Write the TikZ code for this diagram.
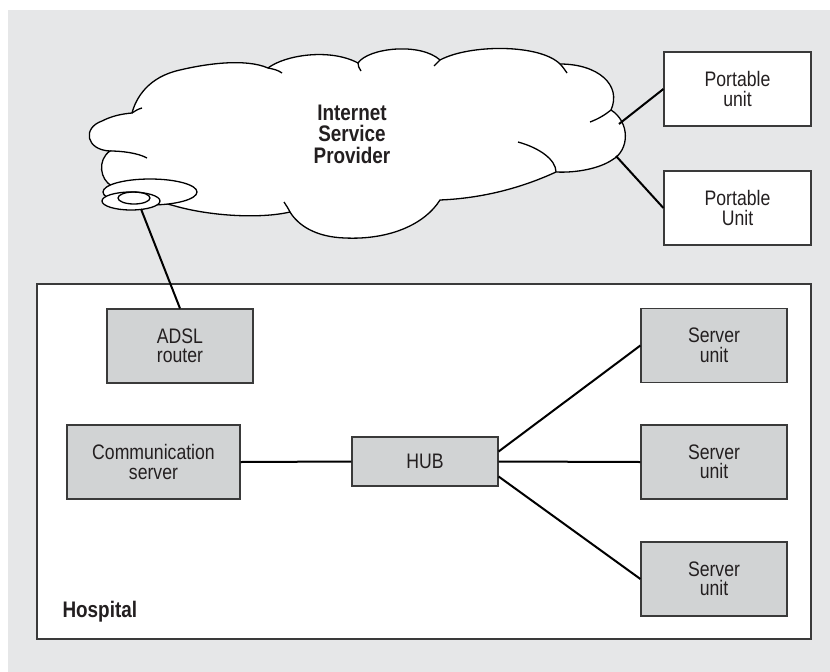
\documentclass[tikz,border=0pt]{standalone}
\usepackage{fontspec}
\setmainfont{Liberation Sans}[FakeStretch=0.84]
\usepackage{tikz}
\definecolor{bggray}{HTML}{E6E7E8}
\definecolor{boxgray}{HTML}{D1D3D4}
\definecolor{edgegray}{HTML}{3A3A3A}
\definecolor{textgray}{HTML}{231F20}
\tikzset{
  unitbox/.style={draw=edgegray, line width=1.2pt, fill=boxgray, minimum width=146pt,
    minimum height=74pt, align=center, text=textgray, inner sep=0pt,
    font=\fontsize{21}{19.5}\selectfont},
  portbox/.style={unitbox, fill=white, minimum width=147pt},
  boldlabel/.style={text=textgray, align=center, font=\bfseries\fontsize{22.5}{21.5}\selectfont},
  link/.style={black, line width=2pt},
  cloudline/.style={black, line width=1.3pt}
}

\begin{document}
\begin{tikzpicture}[x=1pt,y=-1pt]
        \useasboundingbox (0,0) rectangle (830,672);
        \fill[white] (0,0) rectangle (830,672);
        \fill[bggray] (8,10) rectangle (830,672);

        % Hospital area
        \draw[edgegray, line width=1.2pt, fill=white] (37,284) rectangle (811,639);
        \node[boldlabel, anchor=base west] (hospital) at (59,617) {Hospital};

        % Internet cloud
        \draw[cloudline, fill=white]
            (112,186) .. controls (100,180) and (97,160) .. (110,151)
            .. controls (86,150) and (82,128) .. (102,121)
            .. controls (112,116) and (121,114) .. (132,113)
            .. controls (136,98) and (148,77) .. (180,70)
            .. controls (205,64) and (245,58) .. (268,68)
            .. controls (285,55) and (330,48) .. (358,63)
            .. controls (368,48) and (420,42) .. (440,60)
            .. controls (470,44) and (540,44) .. (560,64)
            .. controls (598,64) and (622,85) .. (611,110)
            .. controls (630,122) and (630,150) .. (612,160)
            .. controls (600,168) and (578,173) .. (556,172)
            .. controls (530,184) and (490,198) .. (440,200)
            .. controls (425,224) and (390,240) .. (345,238)
            .. controls (315,237) and (298,225) .. (290,212)
            .. controls (260,219) and (210,216) .. (175,206)
            .. controls (150,199) and (125,196) .. (112,186) -- cycle;
        % small curls where the bumps meet
        \draw[cloudline] (132,113) .. controls (135,111) and (138,109) .. (142,108);
        \draw[cloudline] (110,151) .. controls (122,151) and (138,153) .. (147,158);
        \draw[cloudline] (268,68) .. controls (273,69) and (278,70) .. (282,73);
        \draw[cloudline] (358,63) .. controls (358,66) and (359,68) .. (361,71);
        \draw[cloudline] (440,60) .. controls (438,62) and (436,64) .. (434,66);
        \draw[cloudline] (560,64) .. controls (563,67) and (565,70) .. (567,73);
        \draw[cloudline] (611,110) .. controls (605,115) and (598,119) .. (590,122);
        \draw[cloudline] (556,172) .. controls (556,160) and (540,148) .. (518,142);
        \draw[cloudline] (290,212) .. controls (288,208) and (286,205) .. (284,202);
        \node[boldlabel] (isp) at (352,134) {Internet\\Service\\Provider};

        % Modem on the cloud edge
        \draw[cloudline, fill=white] (150,192) ellipse [x radius=47pt, y radius=13pt];
        \draw[cloudline, fill=white] (131,201) ellipse [x radius=29pt, y radius=9pt];
        \draw[cloudline] (134,198) ellipse [x radius=16pt, y radius=6pt];
        \coordinate (modem) at (141,209);

        % Portable units
        \node[portbox] (portable1) at (737.5,89) {Portable\\unit};
        \node[portbox] (portable2) at (737.5,208) {Portable\\Unit};
        \coordinate (cloudne) at (619,124);
        \coordinate (cloudse) at (616,156);
        \draw[link] (cloudne) -- (portable1.west);
        \draw[link] (cloudse) -- (portable2.west);

        % Hospital network
        \node[unitbox] (adsl) at (180,346) {ADSL\\router};
        \node[unitbox, minimum width=173pt] (comm) at (153.5,462) {Communication\\server};
        \node[unitbox, minimum height=49pt] (hub) at (425,461.5) {HUB};
        \foreach \i/\y in {1/345.5,2/462,3/579} {
            \node[unitbox] (server\i) at (714,\y) {Server\\unit};
        }
        \draw[link] (modem) -- (adsl.north);
        \draw[link] (comm.east) -- (hub.west);
        \foreach \i/\s in {1/10,2/0,3/-15} {
            \draw[link] ([yshift=\s pt]hub.east) -- (server\i.west);
        }
    \end{tikzpicture}
\end{document}
